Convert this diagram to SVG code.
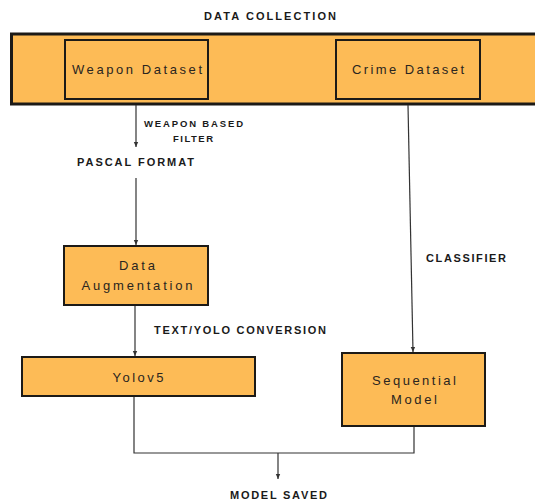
<svg xmlns="http://www.w3.org/2000/svg" width="535" height="501" viewBox="0 0 535 501">
<defs>
<style>
.box{fill:#FDBB56;stroke:#1c1a17;stroke-width:2}
.band{fill:#FDBB56;stroke:#1c1a17;stroke-width:3}
.nt{font-family:"Liberation Sans",Arial,sans-serif;font-size:13px;fill:#2a2520;text-anchor:middle}
.lb{font-family:"Liberation Sans",Arial,sans-serif;font-weight:bold;font-size:11px;fill:#1a1a1a}
.sm{font-size:9.5px}
.cn{fill:none;stroke:#333;stroke-width:1.2}
</style>
<marker id="ah" markerWidth="6" markerHeight="6" refX="5" refY="3" orient="auto" markerUnits="userSpaceOnUse">
<path d="M0,0.8 L5,3 L0,5.2 Z" fill="#333"/>
</marker>
</defs>
<rect width="535" height="501" fill="#fff"/>
<text class="lb" x="270" y="20" text-anchor="middle" textLength="132" lengthAdjust="spacing">DATA COLLECTION</text>
<g id="data-collection">
<rect class="band" x="11.5" y="34" width="530" height="70"/>
</g>
<g id="weapon-dataset">
<rect class="box" x="65" y="40" width="143" height="59"/>
<text class="nt" x="137" y="74" textLength="130" lengthAdjust="spacing">Weapon Dataset</text>
</g>
<g id="crime-dataset">
<rect class="box" x="336" y="40" width="144" height="59"/>
<text class="nt" x="408" y="74" textLength="112" lengthAdjust="spacing">Crime Dataset</text>
</g>
<g id="data-augmentation">
<rect class="box" x="64" y="246" width="144" height="59"/>
<text class="nt" x="137" y="270" textLength="36" lengthAdjust="spacing">Data</text>
<text class="nt" x="137" y="290" textLength="111" lengthAdjust="spacing">Augmentation</text>
</g>
<g id="yolov5">
<rect class="box" x="22" y="357" width="233" height="39"/>
<text class="nt" x="138" y="382" textLength="51" lengthAdjust="spacing">Yolov5</text>
</g>
<g id="sequential-model">
<rect class="box" x="342" y="353" width="143" height="73"/>
<text class="nt" x="414" y="385" textLength="84" lengthAdjust="spacing">Sequential</text>
<text class="nt" x="414" y="404" textLength="46" lengthAdjust="spacing">Model</text>
</g>
<g id="connectors">
<line class="cn" x1="136" y1="105" x2="136" y2="147" marker-end="url(#ah)"/>
<line class="cn" x1="136" y1="178" x2="136" y2="245" marker-end="url(#ah)"/>
<line class="cn" x1="135" y1="306" x2="135" y2="356" marker-end="url(#ah)"/>
<line class="cn" x1="408" y1="105" x2="413" y2="352" marker-end="url(#ah)"/>
<polyline class="cn" points="134,397 134,453 414,453 414,427"/>
<line class="cn" x1="278" y1="453" x2="278" y2="479" marker-end="url(#ah)"/>
</g>
<g id="labels">
<text class="lb sm" x="144" y="127" textLength="99" lengthAdjust="spacing">WEAPON BASED</text>
<text class="lb sm" x="193" y="142" text-anchor="middle" textLength="40" lengthAdjust="spacing">FILTER</text>
<text class="lb" x="77" y="166" textLength="117" lengthAdjust="spacing">PASCAL FORMAT</text>
<text class="lb" x="426" y="262" textLength="80" lengthAdjust="spacing">CLASSIFIER</text>
<text class="lb" x="154" y="334" textLength="172" lengthAdjust="spacing">TEXT/YOLO CONVERSION</text>
<text class="lb" x="230" y="499" textLength="97" lengthAdjust="spacing">MODEL SAVED</text>
</g>
</svg>
